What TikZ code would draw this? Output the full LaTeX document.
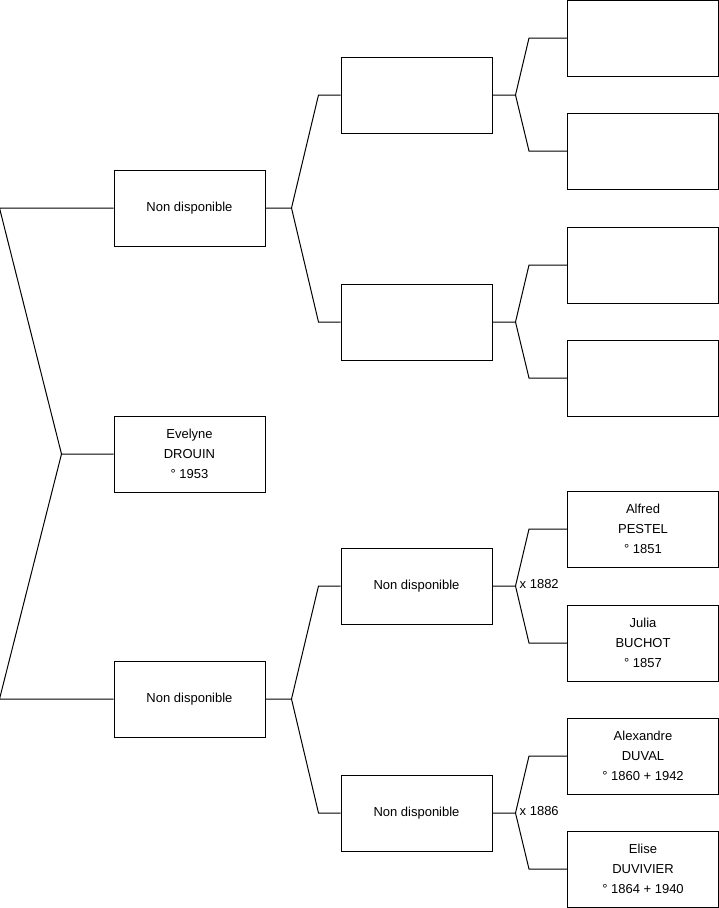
\documentclass[tikz,border=0pt]{standalone}
\usepackage{fontspec}
\setmainfont{Liberation Sans}
\usetikzlibrary{positioning}

\begin{document}
\begin{tikzpicture}[x=1pt, y=-1pt, font=\fontsize{13}{20}\selectfont,
    personne/.style={draw, line width=1pt, minimum width=151pt, minimum height=76pt, align=center, inner sep=0pt},
    lien/.style={line width=1pt}]

      \useasboundingbox (0,0) rectangle (719,908);

      % 1. Personne de depart et parents
      \node[personne] (racine) at (189.5,454) {Evelyne\\DROUIN\\° 1953};
      \node[personne] (pere) at (189.5,208) {Non disponible};
      \node[personne] (mere) at (189.5,699) {Non disponible};

      % 2. Grands-parents
      \node[personne] (gpp) at (416.5,95) {};
      \node[personne] (gmp) at (416.5,322) {};
      \node[personne] (gpm) at (416.5,586) {Non disponible};
      \node[personne] (gmm) at (416.5,813) {Non disponible};

      % 3. Arriere-grands-parents
      \node[personne] (ag1) at (643,38) {};
      \node[personne] (ag2) at (643,151) {};
      \node[personne] (ag3) at (643,265) {};
      \node[personne] (ag4) at (643,378) {};
      \node[personne] (ag5) at (643,529) {Alfred\\PESTEL\\° 1851};
      \node[personne] (ag6) at (643,643) {Julia\\BUCHOT\\° 1857};
      \node[personne] (ag7) at (643,756) {Alexandre\\DUVAL\\° 1860 + 1942};
      \node[personne] (ag8) at (643,869) {Elise\\DUVIVIER\\° 1864 + 1940};

      % 4. Liens (fourches)
      % Racine
      \draw[lien] (racine.west) -- ++(-52,0) coordinate (jR) -- ([xshift=-114pt]pere.west) -- (pere.west);
      \draw[lien] (jR) -- ([xshift=-114pt]mere.west) -- (mere.west);

      % Parents
      \draw[lien] (pere.east) -- ++(26,0) coordinate (jP) -- ([xshift=-22pt]gpp.west) -- (gpp.west);
      \draw[lien] (jP) -- ([xshift=-22pt]gmp.west) -- (gmp.west);
      \draw[lien] (mere.east) -- ++(26,0) coordinate (jM) -- ([xshift=-22pt]gpm.west) -- (gpm.west);
      \draw[lien] (jM) -- ([xshift=-22pt]gmm.west) -- (gmm.west);

      % Grands-parents
      \draw[lien] (gpp.east) -- ++(23,0) coordinate (jPP) -- ([xshift=-38pt]ag1.west) -- (ag1.west);
      \draw[lien] (jPP) -- ([xshift=-38pt]ag2.west) -- (ag2.west);
      \draw[lien] (gmp.east) -- ++(23,0) coordinate (jMP) -- ([xshift=-38pt]ag3.west) -- (ag3.west);
      \draw[lien] (jMP) -- ([xshift=-38pt]ag4.west) -- (ag4.west);
      \draw[lien] (gpm.east) -- ++(23,0) coordinate (jPM) -- ([xshift=-38pt]ag5.west) -- (ag5.west);
      \draw[lien] (jPM) -- ([xshift=-38pt]ag6.west) -- (ag6.west);
      \draw[lien] (gmm.east) -- ++(23,0) coordinate (jMM) -- ([xshift=-38pt]ag7.west) -- (ag7.west);
      \draw[lien] (jMM) -- ([xshift=-38pt]ag8.west) -- (ag8.west);

      % 5. Mariages
      \node[anchor=west, inner sep=0pt] (mariage1) at ([xshift=4pt, yshift=2pt]jPM) {x 1882};
      \node[anchor=west, inner sep=0pt] (mariage2) at ([xshift=4pt, yshift=2pt]jMM) {x 1886};

\end{tikzpicture}
\end{document}
